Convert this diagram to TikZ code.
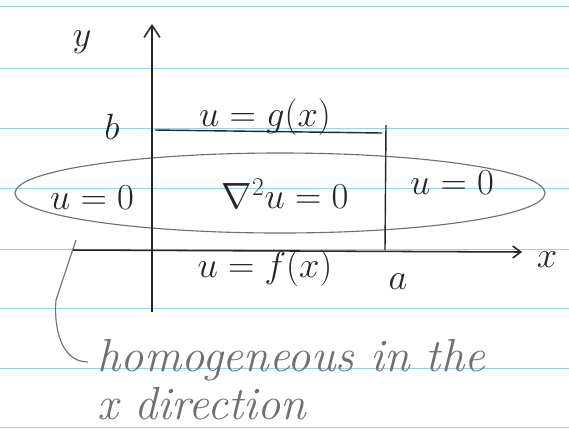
\documentclass[tikz,border=0pt]{standalone}
\usepackage{fix-cm}
\usepackage{amsmath}
\usetikzlibrary{positioning,shapes.geometric,arrows.meta}
\definecolor{ruled}{HTML}{8ED6E8}
\definecolor{pencil}{HTML}{262626}
\definecolor{softpencil}{HTML}{707070}
\tikzset{
  ruleline/.style={ruled, line width=0.5pt},
  axisline/.style={pencil, line width=1.1pt},
  bound/.style={pencil, line width=1pt},
  bigmath/.style={pencil, font=\fontsize{26}{30}\selectfont},
  note/.style={softpencil, font=\fontsize{33}{34}\selectfont\itshape, align=left, inner sep=1pt}
}

\begin{document}
\begin{tikzpicture}[x=0.25mm, y=-0.25mm]
  \useasboundingbox (0,0) rectangle (569,432);
  \fill[white] (0,0) rectangle (569,432);

  % ruled paper
  \foreach \ry in {6,68,128,188,249,308,368,427}
    \draw[ruleline] (0,\ry) -- (569,\ry);

  % strip where u is homogeneous
  \node[draw, ellipse, softpencil, line width=0.8pt,
        minimum width=132.5mm, minimum height=20mm] (strip) at (280,193) {};

  % axes
  \coordinate (ybot) at (152,312);
  \coordinate (ytop) at (152,24);
  \coordinate (xleft) at (72,250);
  \coordinate (xright) at (522,252);
  \draw[axisline, -{Straight Barb[length=3mm, width=4mm]}] (ybot) -- (ytop);
  \draw[axisline, -{Straight Barb[length=2mm, width=3mm]}] (xleft) -- (xright);
  \node[bigmath] (ylab) at (82,42) {$y$};
  \node[bigmath] (xlab) at (547,260) {$x$};

  % rectangle boundaries
  \coordinate (tl) at (155,130);
  \coordinate (tr) at (382,133);
  \coordinate (rt) at (386,125);
  \coordinate (rb) at (385,250);
  \draw[bound] (tl) -- (tr);
  \draw[bound] (rt) -- (rb);

  \node[bigmath] (blab) at (112,127) {$b$};
  \node[bigmath] (alab) at (398,282) {$a$};
  \node[bigmath] (gtop) at (265,117) {$u=g(x)$};
  \node[bigmath] (fbot) at (265,268) {$u=f(x)$};
  \node[bigmath] (uleft) at (92,198) {$u=0$};
  \node[bigmath] (lap) at (285,194) {$\nabla^2 u=0$};
  \node[bigmath] (uright) at (452,183) {$u=0$};

  % note with leader
  \node[note, anchor=west] (homog) at (96,380) {homogeneous in the\\x direction};
  \coordinate (lead) at (76,240);
  \coordinate (leadend) at (88,362);
  \draw[softpencil, line width=0.8pt] (lead) -- (56,300) to[out=-95, in=180] (leadend);
\end{tikzpicture}
\end{document}
